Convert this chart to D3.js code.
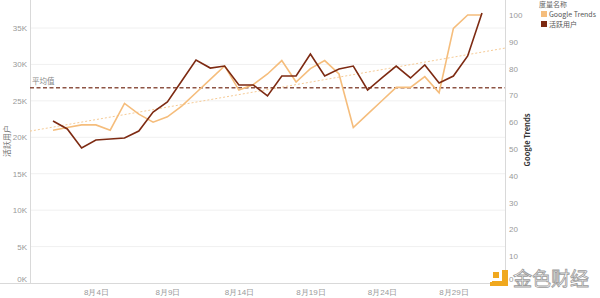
<!DOCTYPE html>
<html><head><meta charset="utf-8">
<script src="https://cdn.jsdelivr.net/npm/d3@7"></script>
<style>body{margin:0;background:#fff;}svg{display:block;font-family:"Noto Sans CJK SC","Lato",sans-serif;}</style>
</head><body><svg id="c" width="600" height="298"></svg>
<script>
const days = d3.range(1, 32).map(d => new Date(2020, 7, d));
const activeUsers = [22230,21140,18530,19630,19760,19900,20860,23470,24840,27720,30600,29500,29780,27180,27180,25670,28410,28410,31430,28410,29370,29780,26490,28140,29780,28140,29920,27450,28410,31160,37060];
const googleTrends = [57,58,59,59,57,67,63,60,62,66,71,76,81,72,74,78,83,75,80,83,78,58,63,68,73,73,77,71,95,100,100];
const leftTicks = [0,5000,10000,15000,20000,25000,30000,35000];
const rightTicks = [0,10,20,30,40,50,60,70,80,90,100];
const xTicks = [4,9,14,19,24,29].map(d => new Date(2020, 7, d));
const seriesNames = ["Google Trends", "活跃用户"];
const colors = {gt: "#f5bd7c", au: "#7d2a12"};

const svg = d3.select("#c");
const L = 30, R = 505, B = 283, T = 0;
const x = d3.scaleTime().domain([days[0], days[30]]).range([53, 482]);
const yL = d3.scaleLinear().domain([0, 35000]).range([B, 28]);
const yR = d3.scaleLinear().domain([0, 100]).range([B, 15]);

// gridlines
svg.append("g").selectAll("line").data(leftTicks.slice(1)).join("line")
  .attr("x1", L).attr("x2", R).attr("y1", d => yL(d)).attr("y2", d => yL(d))
  .attr("stroke", "#f0f0f0").attr("stroke-width", 1);

// axes lines
svg.append("line").attr("x1", 0).attr("x2", R).attr("y1", B + 0.5).attr("y2", B + 0.5).attr("stroke", "#d9d9d9");
svg.append("line").attr("x1", L + 0.5).attr("x2", L + 0.5).attr("y1", T).attr("y2", B).attr("stroke", "#d9d9d9");
svg.append("line").attr("x1", R + 0.5).attr("x2", R + 0.5).attr("y1", T).attr("y2", B).attr("stroke", "#d9d9d9");

const tickStyle = s => s.attr("font-size", 8).attr("fill", "#999");

// left axis labels
const la = svg.append("g").attr("transform", `translate(${L},0)`)
  .call(d3.axisLeft(yL).tickValues(leftTicks).tickSize(0).tickPadding(3).tickFormat(d => (d/1000) + "K"));
la.select(".domain").remove();
la.selectAll("text").call(tickStyle).attr("dy", d => d === 0 ? "-0.2em" : "0.32em");

// right axis labels
const ra = svg.append("g").attr("transform", `translate(${R},0)`)
  .call(d3.axisRight(yR).tickValues(rightTicks).tickSize(0).tickPadding(4));
ra.select(".domain").remove();
ra.selectAll("text").call(tickStyle).attr("dy", d => d === 0 ? "-0.2em" : "0.32em");

// bottom axis labels
const ba = svg.append("g").attr("transform", `translate(0,${B})`)
  .call(d3.axisBottom(x).tickValues(xTicks).tickSize(0).tickPadding(6).tickFormat(d => (d.getMonth()+1) + "月" + d.getDate() + "日"));
ba.select(".domain").remove();
ba.selectAll("text").call(tickStyle);

// axis titles
svg.append("text").attr("transform", "translate(10,141) rotate(-90)").attr("text-anchor", "middle")
  .attr("font-size", 8).attr("fill", "#777").text("活跃用户");
svg.append("text").attr("transform", "translate(530,140) rotate(-90)").attr("text-anchor", "middle")
  .attr("font-size", 7.5).attr("font-weight", "bold").attr("fill", "#333").text("Google Trends");

// trend line (least squares on Google Trends)
const n = days.length;
const idx = d3.range(n);
const mx = d3.mean(idx), my = d3.mean(googleTrends);
const slope = d3.sum(idx, i => (i - mx) * (googleTrends[i] - my)) / d3.sum(idx, i => (i - mx) ** 2);
const icpt = my - slope * mx;
const dayOf = px => (x.invert(px) - days[0]) / 864e5;
svg.append("line")
  .attr("x1", L).attr("y1", yR(icpt + slope * dayOf(L)))
  .attr("x2", R).attr("y2", yR(icpt + slope * dayOf(R)))
  .attr("stroke", "#f6cb96").attr("stroke-width", 1).attr("stroke-dasharray", "2,2");

// average line
const avg = d3.mean(activeUsers);
svg.append("line").attr("x1", L).attr("x2", R).attr("y1", yL(avg)).attr("y2", yL(avg))
  .attr("stroke", "#8e5445").attr("stroke-width", 1.5).attr("stroke-dasharray", "4,2.5");
svg.append("text").attr("x", L + 2).attr("y", yL(avg) - 4).attr("font-size", 7.5).attr("fill", "#888").text("平均值");

// lines
const lineGT = d3.line().x((d, i) => x(days[i])).y(d => yR(d));
const lineAU = d3.line().x((d, i) => x(days[i])).y(d => yL(d));
svg.append("path").datum(googleTrends).attr("d", lineGT).attr("fill", "none")
  .attr("stroke", colors.gt).attr("stroke-width", 1.6).attr("stroke-linejoin", "miter");
svg.append("path").datum(activeUsers).attr("d", lineAU).attr("fill", "none")
  .attr("stroke", colors.au).attr("stroke-width", 1.6).attr("stroke-linejoin", "miter");

// legend
const lg = svg.append("g").attr("transform", "translate(539,0)");
lg.append("text").attr("x", 0).attr("y", 7).attr("font-size", 7).attr("fill", "#666").text("度量名称");
seriesNames.forEach((s, i) => {
  const c = i === 0 ? colors.gt : colors.au;
  lg.append("rect").attr("x", 2).attr("y", 11 + i * 10).attr("width", 6).attr("height", 6).attr("fill", c);
  lg.append("text").attr("x", 10).attr("y", 17 + i * 10).attr("font-size", 7).attr("fill", "#555").text(s);
});

// watermark
const wm = svg.append("g").attr("transform", "translate(490,270)");
wm.append("rect").attr("x", 3).attr("y", 2).attr("width", 6).attr("height", 6).attr("fill", "#f0a81e");
wm.append("path").attr("d", "M12,0 h6 v16 h-16 v-5 h10 z").attr("fill", "#f0a81e");
wm.append("rect").attr("x", 0).attr("y", 12).attr("width", 4).attr("height", 4).attr("fill", "#f0a81e");
wm.append("text").attr("x", 23).attr("y", 16).attr("font-size", 19).attr("fill", "#fff")
  .attr("stroke", "#9a9a9a").attr("stroke-width", 0.8).text("金色财经");
</script></body></html>
